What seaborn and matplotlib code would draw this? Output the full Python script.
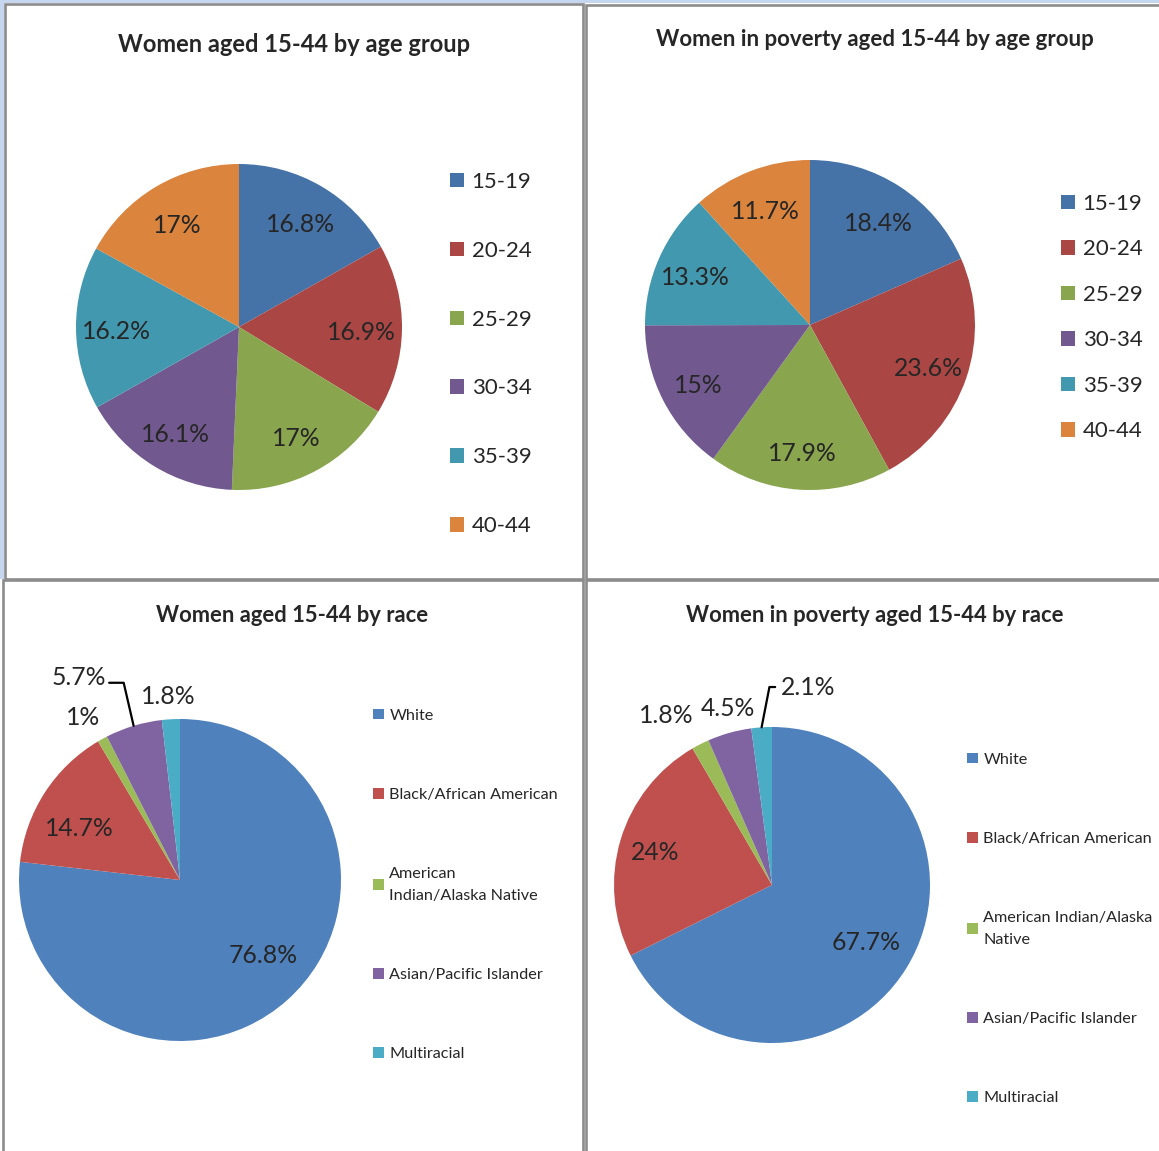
import numpy as np
import matplotlib
matplotlib.use("Agg")
import matplotlib.pyplot as plt
import seaborn as sns
from matplotlib.patches import Rectangle

# data
age_groups = ["15-19", "20-24", "25-29", "30-34", "35-39", "40-44"]
age_all = [16.8, 16.9, 17.0, 16.1, 16.2, 17.0]
age_poverty = [18.4, 23.6, 17.9, 15.0, 13.3, 11.7]

races = ["White", "Black/African American", "American Indian/Alaska Native",
         "Asian/Pacific Islander", "Multiracial"]
race_all = [76.8, 14.7, 1.0, 5.7, 1.8]
race_poverty = [67.7, 24.0, 1.8, 4.5, 2.1]

sns.set_theme(style="white")
plt.rcParams["font.family"] = ["Lato", "DejaVu Sans"]

age_colors = sns.color_palette(["#4572A7", "#AA4643", "#89A54E", "#71588F", "#4198AF", "#DB843D"])
race_colors = sns.color_palette(["#4F81BD", "#C0504D", "#9BBB59", "#8064A2", "#4BACC6"])

W, H = 1159, 1151
fig = plt.figure(figsize=(W / 100, H / 100), dpi=100)


def fx(x):
    return x / W


def fy(y):
    return 1 - y / H


# panel frames
frame_col = "#8c8c8c"
fig.add_artist(Rectangle((0, fy(579)), fx(4), 1 - fy(579), transform=fig.transFigure,
                         color="#c5d6ee", lw=0))
fig.add_artist(Rectangle((0, fy(3)), 1, fy(0) - fy(3), transform=fig.transFigure,
                         color="#c5d6ee", lw=0))
for x0, y0, x1, y1 in [(5, 4, 583, 579), (586, 4.5, 1175, 579),
                       (3, 580, 583, 1170), (586, 580, 1175, 1170)]:
    fig.add_artist(Rectangle((fx(x0), fy(y1)), fx(x1 - x0), fy(y0) - fy(y1),
                             transform=fig.transFigure, fill=False,
                             edgecolor=frame_col, lw=1.9))


def pie_axes(cx, cy, r):
    return fig.add_axes([fx(cx - 1.25 * r), fy(cy + 1.25 * r), fx(2.5 * r), 2.5 * r / H])


def draw_pie(ax, values, colors, dist):
    wedges, texts = ax.pie(values, colors=colors, startangle=90, counterclock=False,
                           labels=[f"{v:g}%" for v in values], labeldistance=dist,
                           wedgeprops=dict(linewidth=0))
    for t in texts:
        x, y = t.get_position()
        t.set_position((x, y - 0.02))
        t.set_ha("center")
        t.set_va("center")
        t.set_fontsize(17.8)
        t.set_color("#262626")
    ax.set_xlim(-1.25, 1.25)
    ax.set_ylim(-1.25, 1.25)
    return wedges, texts


# top left
ax1 = pie_axes(239, 327, 163)
w1, t1 = draw_pie(ax1, age_all, age_colors, 0.75)
fig.text(fx(294), fy(44), "Women aged 15-44 by age group", ha="center", va="center",
         fontsize=17, fontweight="bold")
fig.legend(w1, age_groups, loc="center left", bbox_to_anchor=(fx(450), fy(354)),
           frameon=False, fontsize=16, handlelength=0.62, handleheight=0.62,
           handletextpad=0.35, labelspacing=2.2, borderpad=0, borderaxespad=0)

# top right
ax2 = pie_axes(810, 325, 165)
w2, t2 = draw_pie(ax2, age_poverty, age_colors, 0.76)
fig.text(fx(875), fy(40), "Women in poverty aged 15-44 by age group", ha="center",
         va="center", fontsize=16, fontweight="bold")
fig.legend(w2, age_groups, loc="center left", bbox_to_anchor=(fx(1061), fy(317.5)),
           frameon=False, fontsize=16, handlelength=0.62, handleheight=0.62,
           handletextpad=0.35, labelspacing=1.15, borderpad=0, borderaxespad=0)

# bottom left
ax3 = pie_axes(180, 880, 161)
w3, t3 = draw_pie(ax3, race_all, race_colors, 0.7)
label_pos3 = {0: (0.516, -0.472), 1: (-0.627, 0.317),
              2: (-0.60, 1.01), 3: (-0.63, 1.26), 4: (-0.075, 1.137)}
for i, pos in label_pos3.items():
    t3[i].set_position(pos)
theta = np.deg2rad((w3[3].theta1 + w3[3].theta2) / 2)
ax3.annotate("", xy=(np.cos(theta), np.sin(theta)), xytext=(-0.44, 1.225),
             arrowprops=dict(arrowstyle="-", color="black", lw=1.6, shrinkA=0, shrinkB=0,
                             connectionstyle="angle,angleA=0,angleB=103"))
fig.text(fx(292), fy(616), "Women aged 15-44 by race", ha="center", va="center",
         fontsize=15.8, fontweight="bold")
race_labels_l = ["White", "Black/African American", "American\nIndian/Alaska Native",
                 "Asian/Pacific Islander", "Multiracial"]
leg3 = fig.legend(w3, race_labels_l, loc="center left", bbox_to_anchor=(fx(373), fy(885)),
                  frameon=False, fontsize=11.7, handlelength=0.65, handleheight=0.65,
                  handletextpad=0.35, labelspacing=4.0, borderpad=0, borderaxespad=0)
for t in leg3.get_texts():
    t.set_linespacing(1.75)

# bottom right
ax4 = pie_axes(772, 885, 158)
w4, t4 = draw_pie(ax4, race_poverty, race_colors, 0.72)
label_pos4 = {0: (0.595, -0.361), 1: (-0.74, 0.203),
              2: (-0.67, 1.07), 3: (-0.278, 1.12), 4: (0.228, 1.253)}
for i, pos in label_pos4.items():
    t4[i].set_position(pos)
theta = np.deg2rad((w4[4].theta1 + w4[4].theta2) / 2)
ax4.annotate("", xy=(np.cos(theta), np.sin(theta)), xytext=(0.02, 1.253),
             arrowprops=dict(arrowstyle="-", color="black", lw=1.6, shrinkA=0, shrinkB=0,
                             connectionstyle="angle,angleA=0,angleB=79"))
fig.text(fx(875), fy(616), "Women in poverty aged 15-44 by race", ha="center",
         va="center", fontsize=15.8, fontweight="bold")
race_labels_r = ["White", "Black/African American", "American Indian/Alaska\nNative",
                 "Asian/Pacific Islander", "Multiracial"]
leg4 = fig.legend(w4, race_labels_r, loc="center left", bbox_to_anchor=(fx(967), fy(929)),
                  frameon=False, fontsize=11.7, handlelength=0.65, handleheight=0.65,
                  handletextpad=0.35, labelspacing=4.0, borderpad=0, borderaxespad=0)
for t in leg4.get_texts():
    t.set_linespacing(1.75)

fig.savefig("out.png", dpi=100)
